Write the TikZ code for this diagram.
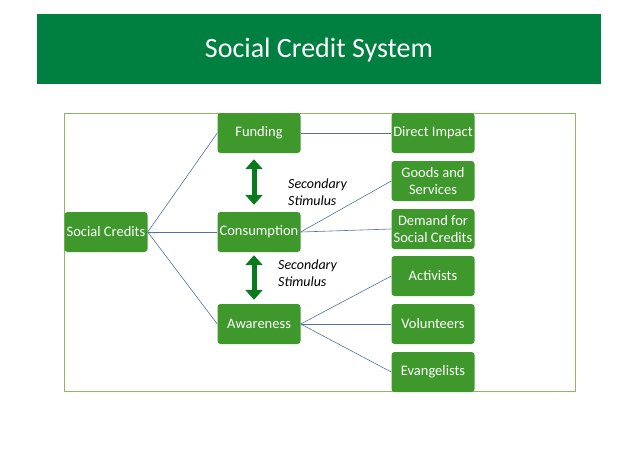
\documentclass[tikz,border=0pt]{standalone}
\usepackage{fontspec}
\setmainfont{Carlito}
\usetikzlibrary{positioning,arrows.meta}
\definecolor{bannergreen}{RGB}{0,128,64}
\definecolor{boxgreen}{RGB}{62,152,44}
\definecolor{arrowgreen}{RGB}{10,122,32}
\definecolor{linkblue}{RGB}{84,114,160}
\definecolor{framegreen}{RGB}{140,185,100}

\begin{document}
\begin{tikzpicture}[x=1pt,y=-1pt]
\tikzstyle{gbox}=[fill=boxgreen,text=white,rounded corners=3pt,minimum width=83pt,minimum height=40pt,inner xsep=1pt,inner ysep=2pt,align=center,font=\fontsize{14.5}{16.5}\selectfont]
\tikzstyle{link}=[draw=linkblue,line width=0.6pt]
\tikzstyle{stim}=[align=left,font=\fontsize{14}{17}\selectfont\itshape,anchor=west,inner sep=1pt]
\tikzstyle{twoway}=[draw=arrowgreen,line width=5pt,{Triangle[width=17pt,length=10pt]}-{Triangle[width=17pt,length=10pt]}]

   \useasboundingbox (0,0) rectangle (638,451);

   % title banner
   \path[fill=bannergreen] (37,14) rectangle (601,84);
   \node[text=white,font=\fontsize{28}{30}\selectfont] (T) at (319,50) {Social Credit System};

   % frame
   \draw[framegreen,line width=0.8pt] (64,113) rectangle (575,391);

   \path (106,232) node[gbox] (SC) {Social Credits}
         (259,133) node[gbox] (F) {Funding}
         (259,232) node[gbox] (C) {Consumption}
         (259,324) node[gbox] (A) {Awareness};

   \path (433,133) node[gbox] (DI) {Direct Impact}
         (433,181) node[gbox] (GS) {Goods and\\Services}
         (433,229) node[gbox] (DS) {Demand for\\Social Credits}
         (433,276) node[gbox] (AC) {Activists}
         (433,324) node[gbox] (VO) {Volunteers}
         (433,372) node[gbox] (EV) {Evangelists};

   \foreach \n in {F,C,A} \draw[link] (SC.east)--(\n.west);
   \draw[link] (F.east)--(DI.west);
   \foreach \n in {GS,DS} \draw[link] (C.east)--(\n.west);
   \foreach \n in {AC,VO,EV} \draw[link] (A.east)--(\n.west);

   \draw[twoway,shorten <=6pt,shorten >=7pt] ([xshift=-5pt]F.south)--([xshift=-5pt]C.north);
   \draw[twoway,shorten <=3pt,shorten >=4pt] ([xshift=-5pt]C.south)--([xshift=-5pt]A.north);

   \node[stim] (S1) at (287,192) {Secondary\\Stimulus};
   \node[stim] (S2) at (277,273) {Secondary\\Stimulus};
\end{tikzpicture}
\end{document}
